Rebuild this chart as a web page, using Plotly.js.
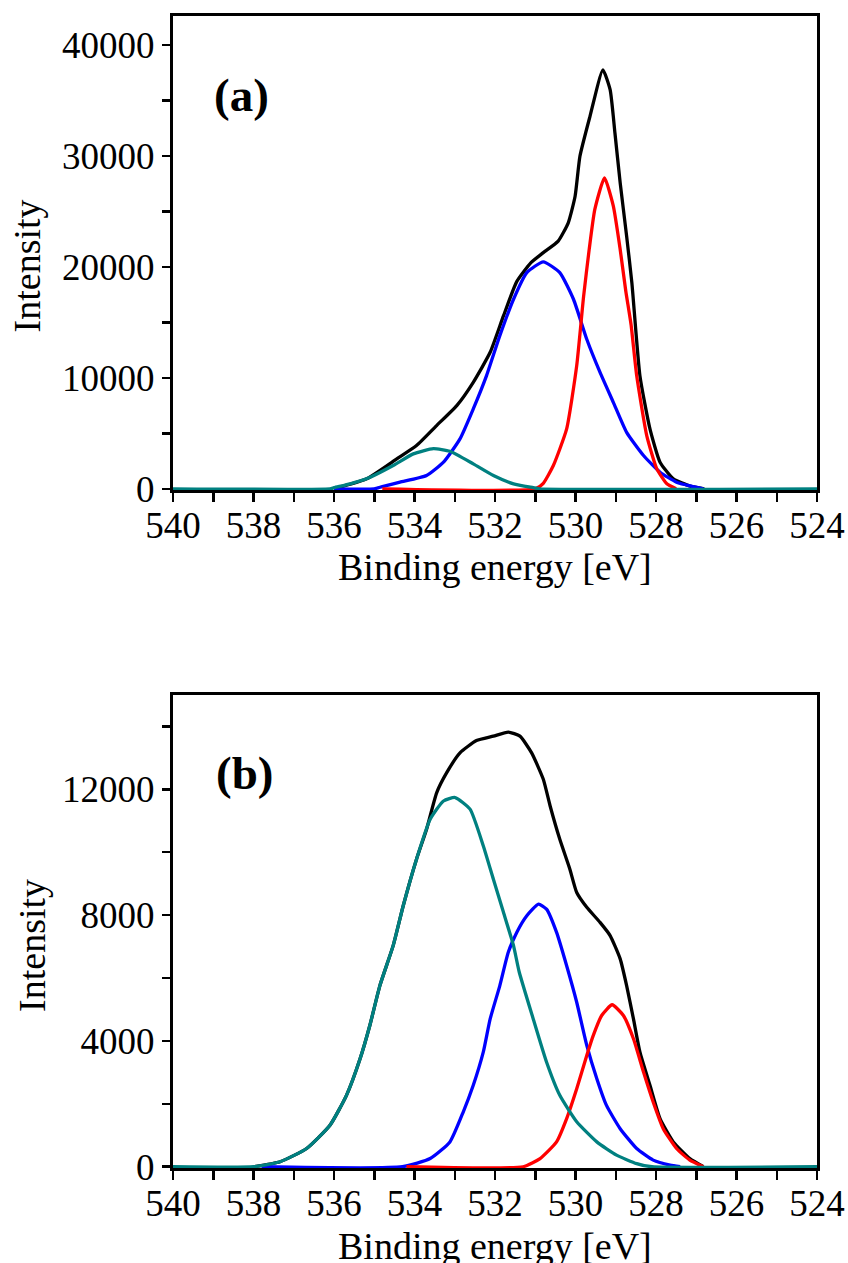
<!DOCTYPE html>
<html>
<head>
<meta charset="utf-8">
<script src="https://cdn.plot.ly/plotly-3.0.1.min.js"></script>
<style>html,body{margin:0;padding:0;background:#fff;}#chart{width:848px;height:1263px;}</style>
</head>
<body>
<div id="chart"></div>
<script>
// ---------- Panel (a) ----------
const aBlackE = [536.0,535.19,534.44,533.95,533.45,532.95,532.54,532.12,531.79,531.46,531.10,530.80,530.43,530.18,530.01,529.89,529.64,529.32,529.14,529.02,528.89,528.73,528.60,528.40,528.15,527.90,527.57,527.15,526.80];
const aBlackI = [0,900,2700,3900,5700,7500,9600,12300,15580,18670,20400,21280,22320,23970,26360,29960,33560,37750,35960,32060,27570,22770,18580,10200,5400,2400,900,240,0];

const aBlueE = [536.0,535.0,534.8,534.36,533.70,533.28,532.87,532.54,532.21,531.88,531.54,531.21,530.80,530.39,530.05,529.72,529.39,529.06,528.73,528.31,527.90,527.49,526.82];
const aBlueI = [0,0,200,600,1200,2400,4500,7200,10200,13800,17080,19480,20450,19480,17080,13480,10490,7790,5090,3000,1500,600,0];

const aRedE = [534.8,531.0,530.8,530.55,530.22,529.97,529.80,529.66,529.52,529.28,529.06,528.89,528.75,528.62,528.48,528.23,527.98,527.73,527.50];
const aRedI = [0,0,500,2100,5400,11100,17300,21570,25170,28020,25470,21570,17800,14800,10200,4800,1800,450,0];

const aTealE = [540.0,536.1,536.0,535.6,535.19,534.53,534.03,533.53,533.12,532.54,532.04,531.54,531.05,530.9,524.0];
const aTealI = [0,0,100,450,900,2100,3150,3620,3380,2250,1200,450,100,0,0];

// ---------- Panel (b) ----------
const bBlackE = [538.0,537.34,536.68,536.10,535.69,535.35,535.11,534.86,534.53,534.28,533.95,533.70,533.45,533.20,532.87,532.46,532.04,531.67,531.38,531.09,530.80,530.63,530.39,530.14,529.97,529.72,529.39,529.14,528.89,528.73,528.56,528.40,528.15,527.90,527.57,527.16,526.82];
const bBlackI = [0,160,580,1320,2270,3440,4490,5760,7030,8300,9780,10730,11890,12530,13160,13550,13690,13820,13690,13160,12320,11470,10410,9460,8720,8250,7770,7350,6610,5760,4700,3650,2590,1530,790,260,0];

const bBlueE = [537.8,534.3,533.61,533.12,532.79,532.54,532.29,532.12,531.88,531.67,531.46,531.21,530.92,530.72,530.47,530.22,529.97,529.72,529.47,529.23,528.89,528.48,528.07,527.65,527.4];
const bBlueI = [0,0,260,790,1740,2590,3650,4700,5760,6820,7450,7980,8350,8190,7450,6390,5230,3860,2800,1950,1210,580,210,50,0];

const bRedE = [534.2,531.30,530.88,530.47,530.22,529.97,529.72,529.56,529.35,529.09,528.81,528.56,528.31,528.07,527.82,527.49,527.16,526.82];
const bRedI = [0,0,260,790,1530,2480,3540,4170,4810,5150,4810,4070,3010,2060,1210,580,210,0];

const bTealE = [540.0,538.0,537.34,536.68,536.10,535.69,535.35,535.11,534.86,534.53,534.28,533.95,533.61,533.28,532.99,532.62,532.29,532.04,531.79,531.54,531.40,531.05,530.72,530.39,529.97,529.47,528.98,528.48,528.1,524.0];
const bTealI = [0,0,160,580,1320,2270,3440,4490,5760,7030,8300,9780,11050,11630,11740,11370,10200,9140,8090,7030,6200,4700,3330,2270,1430,790,370,100,0,0];

const xTicks = [540,538,536,534,532,530,528,526,524];
const aYTicks = [0,10000,20000,30000,40000];
const bYTicks = [0,4000,8000,12000];

const FONT = "Liberation Serif, Times New Roman, serif";
const LW = 3.3;
function tr(x, y, color, xa, ya) {
  return {x: x, y: y, xaxis: xa, yaxis: ya, type: 'scatter', mode: 'lines',
    line: {color: color, width: LW, shape: 'spline', smoothing: 0.5},
    hoverinfo: 'skip', showlegend: false};
}
const data = [
  tr(aBlackE, aBlackI, '#000000', 'x', 'y'),
  tr(aBlueE, aBlueI, '#0000ff', 'x', 'y'),
  tr(aRedE, aRedI, '#ff0000', 'x', 'y'),
  tr(aTealE, aTealI, '#008080', 'x', 'y'),
  tr(bBlackE, bBlackI, '#000000', 'x2', 'y2'),
  tr(bBlueE, bBlueI, '#0000ff', 'x2', 'y2'),
  tr(bRedE, bRedI, '#ff0000', 'x2', 'y2'),
  tr(bTealE, bTealI, '#008080', 'x2', 'y2')
];

function xax(anchor) {
  return {anchor: anchor, domain: [0, 1], range: [540, 524], autorange: false,
    tickmode: 'array', tickvals: xTicks, ticktext: xTicks.map(String),
    ticks: 'outside', ticklen: 9, tickwidth: 2.5, tickcolor: '#000',
    ticklabelstandoff: -8,
    minor: {dtick: 1, tick0: 524, ticks: 'outside', ticklen: 9, tickwidth: 2.5, tickcolor: '#000', showgrid: false},
    showline: true, linewidth: 3, linecolor: '#000', mirror: true, layer: 'below traces',
    showgrid: false, zeroline: false,
    tickfont: {family: FONT, size: 37, color: '#000'}};
}
function yax(anchor, domain, range, ticks, minorD) {
  return {anchor: anchor, domain: domain, range: range, autorange: false,
    tickmode: 'array', tickvals: ticks, ticktext: ticks.map(String),
    ticks: 'outside', ticklen: 8, tickwidth: 2.5, tickcolor: '#000',
    minor: {dtick: minorD, tick0: 0, ticks: 'outside', ticklen: 8, tickwidth: 2.5, tickcolor: '#000', showgrid: false},
    showline: true, linewidth: 3, linecolor: '#000', mirror: true, layer: 'below traces',
    showgrid: false, zeroline: false,
    tickfont: {family: FONT, size: 37, color: '#000'}};
}

const layout = {
  width: 848, height: 1263,
  margin: {l: 173, r: 31, t: 16, b: 95},
  paper_bgcolor: '#fff', plot_bgcolor: '#fff',
  showlegend: false,
  xaxis: xax('y'),
  yaxis: yax('x', [0.5885, 1], [-110, 42600], aYTicks, 5000),
  xaxis2: xax('y2'),
  yaxis2: yax('x2', [0, 0.4106], [-40, 15000], bYTicks, 2000),
  annotations: [
    {text: '<b>(a)</b>', xref: 'paper', yref: 'paper', x: 0.1056, y: 0.9314, xanchor: 'center', yanchor: 'middle', showarrow: false, font: {family: FONT, size: 47, color: '#000'}},
    {text: '<b>(b)</b>', xref: 'paper', yref: 'paper', x: 0.1118, y: 0.3433, xanchor: 'center', yanchor: 'middle', showarrow: false, font: {family: FONT, size: 47, color: '#000'}},
    {text: 'Binding energy [eV]', xref: 'paper', yref: 'paper', x: 0.5, y: 0.5217, xanchor: 'center', yanchor: 'middle', showarrow: false, font: {family: FONT, size: 38, color: '#000'}},
    {text: 'Binding energy [eV]', xref: 'paper', yref: 'paper', x: 0.5, y: -0.0677, xanchor: 'center', yanchor: 'middle', showarrow: false, font: {family: FONT, size: 38, color: '#000'}},
    {text: 'Intensity', xref: 'paper', yref: 'paper', x: -0.2267, y: 0.7826, xanchor: 'center', yanchor: 'middle', textangle: -90, showarrow: false, font: {family: FONT, size: 38, color: '#000'}},
    {text: 'Intensity', xref: 'paper', yref: 'paper', x: -0.219, y: 0.1936, xanchor: 'center', yanchor: 'middle', textangle: -90, showarrow: false, font: {family: FONT, size: 38, color: '#000'}}
  ]
};

Plotly.newPlot('chart', data, layout, {staticPlot: true, displayModeBar: false});
</script>
</body>
</html>
